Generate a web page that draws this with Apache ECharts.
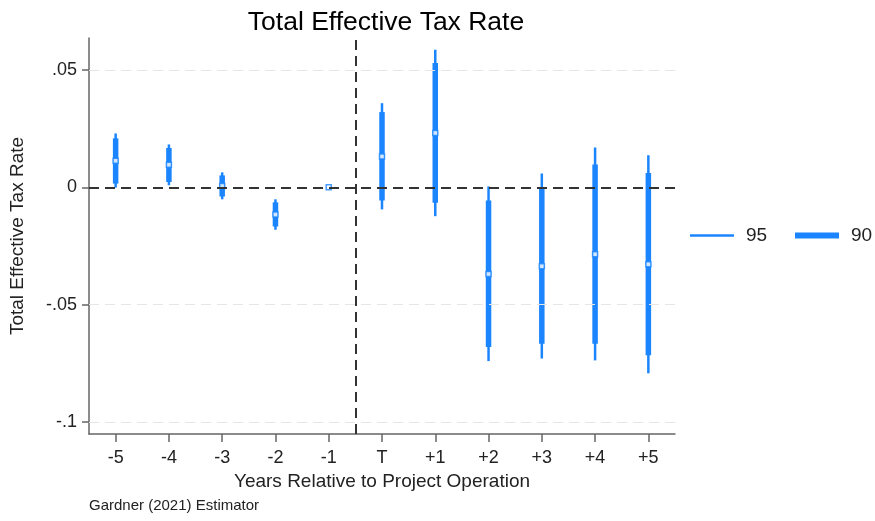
<!DOCTYPE html>
<html>
<head>
<meta charset="utf-8">
<title>Total Effective Tax Rate</title>
<script src="https://cdn.jsdelivr.net/npm/echarts@6/dist/echarts.min.js"></script>
<style>
  html, body { margin: 0; padding: 0; background: #ffffff; }
  #chart { width: 875px; height: 521px; }
</style>
</head>
<body>
<div id="chart"></div>
<script>
// Event-study estimates: years relative to project operation
var years = [-5, -4, -3, -2, -1, 0, 1, 2, 3, 4, 5];
var xTickLabels = ['-5', '-4', '-3', '-2', '-1', 'T', '+1', '+2', '+3', '+4', '+5'];

// Point estimates (year -1 is the reference period)
var coef = [0.0113, 0.0096, 0.0006, -0.0116, 0, 0.0132, 0.0232, -0.0370, -0.0336, -0.0285, -0.0328];

// 95% confidence bounds
var ci95Low  = [-0.0001, 0.0009, -0.0051, -0.0181, null, -0.0094, -0.0123, -0.0741, -0.0730, -0.0738, -0.0793];
var ci95High = [0.0230, 0.0183, 0.0064, -0.0051, null, 0.0359, 0.0587, 0.0004, 0.0059, 0.0170, 0.0137];

// 90% confidence bounds
var ci90Low  = [0.0016, 0.0023, -0.0039, -0.0167, null, -0.0056, -0.0066, -0.0681, -0.0667, -0.0667, -0.0716];
var ci90High = [0.0209, 0.0168, 0.0051, -0.0064, null, 0.0321, 0.0530, -0.0056, -0.0005, 0.0097, 0.0061];

// Y axis ticks
var yTickValues = [-0.1, -0.05, 0, 0.05];
var yTickLabels = ['-.1', '-.05', '0', '.05'];

var BLUE = '#1a85ff';
var FONT = 'Liberation Sans, Arial, sans-serif';

function rangeData(lo, hi) {
  var out = [];
  for (var i = 0; i < years.length; i++) {
    if (lo[i] !== null && hi[i] !== null) out.push([years[i], lo[i], hi[i]]);
  }
  return out;
}

function rangeRenderer(width) {
  return function (params, api) {
    var a = api.coord([api.value(0), api.value(1)]);
    var b = api.coord([api.value(0), api.value(2)]);
    return {
      type: 'line',
      shape: { x1: a[0], y1: a[1], x2: b[0], y2: b[1] },
      style: { stroke: BLUE, lineWidth: width }
    };
  };
}

var gridLines = [];
yTickValues.forEach(function (v) {
  if (v !== 0) gridLines.push({ yAxis: v, lineStyle: { color: '#e6e6e6', width: 1, type: [10, 6] } });
});

var chart = echarts.init(document.getElementById('chart'), null, { renderer: 'canvas' });

chart.setOption({
  backgroundColor: '#ffffff',
  animation: false,
  textStyle: { fontFamily: FONT },
  title: {
    text: 'Total Effective Tax Rate',
    left: 381,
    textAlign: 'center',
    top: 4,
    textStyle: { fontFamily: FONT, fontSize: 26.5, fontWeight: 'normal', color: '#000000' }
  },
  legend: [
    {
      data: [{ name: '95', icon: 'rect' }],
      left: 690, top: 226, padding: 0,
      itemWidth: 44, itemHeight: 2.5,
      textStyle: { fontFamily: FONT, fontSize: 19, color: '#222222', padding: [0, 0, 0, 7] },
      selectedMode: false
    },
    {
      data: [{ name: '90', icon: 'rect' }],
      left: 795, top: 226, padding: 0,
      itemWidth: 44, itemHeight: 6,
      textStyle: { fontFamily: FONT, fontSize: 19, color: '#222222', padding: [0, 0, 0, 7] },
      selectedMode: false
    }
  ],
  grid: { left: 88, right: 200, top: 38, bottom: 87 },
  xAxis: {
    type: 'value',
    min: -5.5,
    max: 5.5,
    name: 'Years Relative to Project Operation',
    nameLocation: 'middle',
    nameGap: 37,
    nameTextStyle: { fontFamily: FONT, fontSize: 19, color: '#222222' },
    axisLine: { show: true, onZero: false, lineStyle: { color: '#666666', width: 1.5 } },
    axisTick: { show: true, length: 8, customValues: years, lineStyle: { color: '#666666', width: 1.5 } },
    axisLabel: {
      customValues: years,
      margin: 15,
      fontFamily: FONT, fontSize: 18, color: '#222222',
      formatter: function (v) { return xTickLabels[years.indexOf(Math.round(v))]; }
    },
    splitLine: { show: false }
  },
  yAxis: {
    type: 'value',
    min: -0.1052,
    max: 0.0637,
    name: 'Total Effective Tax Rate',
    nameLocation: 'middle',
    nameGap: 62,
    nameTextStyle: { fontFamily: FONT, fontSize: 19, color: '#222222' },
    axisLine: { show: true, onZero: false, lineStyle: { color: '#666666', width: 1.5 } },
    axisTick: { show: true, length: 7, customValues: yTickValues, lineStyle: { color: '#666666', width: 1.5 } },
    axisLabel: {
      customValues: yTickValues,
      margin: 12,
      fontFamily: FONT, fontSize: 18, color: '#222222',
      formatter: function (v) {
        for (var i = 0; i < yTickValues.length; i++) {
          if (Math.abs(v - yTickValues[i]) < 1e-9) return yTickLabels[i];
        }
        return '';
      }
    },
    splitLine: { show: false }
  },
  graphic: [
    {
      type: 'text',
      left: 89,
      top: 498,
      style: { text: 'Gardner (2021) Estimator', font: '15px ' + FONT, fill: '#222222' }
    }
  ],
  series: [
    {
      // reference lines: grid, zero line and treatment onset
      type: 'line',
      data: [],
      z: 1,
      silent: true,
      markLine: {
        silent: true,
        symbol: ['none', 'none'],
        label: { show: false },
        data: gridLines.concat([
          { yAxis: 0, lineStyle: { color: '#333333', width: 2, type: [10, 6] } },
          { xAxis: -0.5, lineStyle: { color: '#333333', width: 2, type: [10, 6] } }
        ])
      }
    },
    {
      name: '95',
      type: 'custom',
      z: 2,
      itemStyle: { color: BLUE },
      renderItem: rangeRenderer(2.5),
      encode: { x: 0, y: [1, 2] },
      data: rangeData(ci95Low, ci95High)
    },
    {
      name: '90',
      type: 'custom',
      z: 3,
      itemStyle: { color: BLUE },
      renderItem: rangeRenderer(5.5),
      encode: { x: 0, y: [1, 2] },
      data: rangeData(ci90Low, ci90High)
    },
    {
      name: 'coef',
      type: 'scatter',
      z: 4,
      symbol: 'rect',
      symbolSize: 5,
      itemStyle: { color: '#ffffff', borderColor: BLUE, borderWidth: 1.5 },
      data: years.map(function (y, i) { return [y, coef[i]]; })
    }
  ]
});
</script>
</body>
</html>
